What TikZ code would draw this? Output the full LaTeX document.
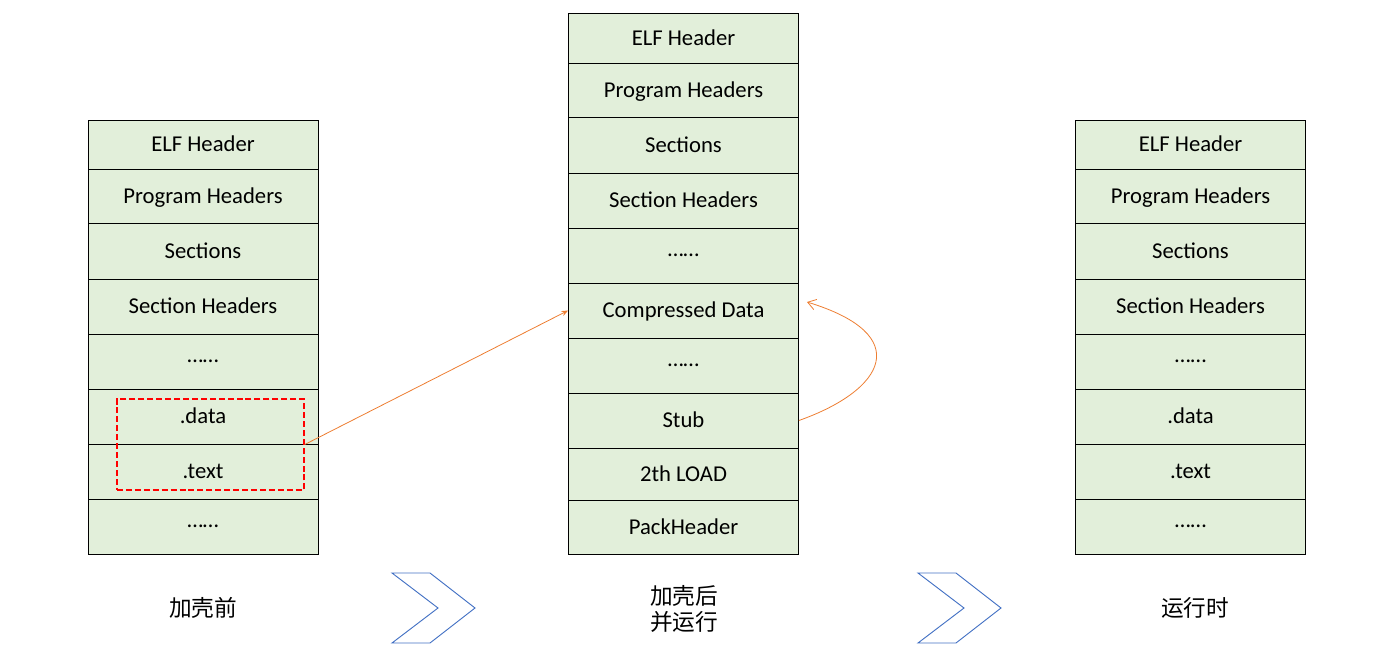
\documentclass[tikz,border=0pt]{standalone}
\usepackage{fontspec}
\setmainfont{Carlito}
\newfontfamily\cjk{Noto Sans CJK SC}
\usetikzlibrary{arrows.meta}
\definecolor{cellgreen}{HTML}{E2EFDA}
\definecolor{linkorange}{HTML}{ED7D31}
\definecolor{chevblue}{HTML}{4472C4}
\newcommand{\dotrow}{\raisebox{0.3em}{……}}

\begin{document}
\begin{tikzpicture}[x=0.75pt,y=-0.75pt]
	\tikzset{cell/.style={draw=black,line width=0.6pt,fill=cellgreen,minimum width=172.5pt,
		inner sep=0pt,text height=14pt,text depth=3pt,font=\fontsize{17}{20}\selectfont}}
	\tikzset{caption/.style={font=\cjk\fontsize{17}{20}\selectfont,align=center}}
	\tikzset{chevron/.style={draw=chevblue,line width=0.7pt,line join=miter}}
	\tikzset{link/.style={draw=linkorange,line width=0.6pt}}
	\useasboundingbox (0,0) rectangle (1385,667);
	% before packing
	\foreach \n/\t/\b/\txt in {l1/120/169/ELF Header,l2/169/223/Program Headers,l3/223/279/Sections,
		l4/279/334/Section Headers,l5/334/389/\dotrow,l6/389/444/.data,l7/444/499/.text,l8/499/554/\dotrow}
		\node[cell,minimum height={0.75pt*(\b-\t)}] (\n) at (203,{(\t+\b)/2}) {\txt};
	\node[draw=red,dash pattern=on 4.5pt off 2.2pt,line width=1.1pt,minimum width=140.25pt,minimum height=68.25pt] (packed) at (210.5,444.5) {};
	% after packing
	\foreach \n/\t/\b/\txt in {m1/13/63/ELF Header,m2/63/117/Program Headers,m3/117/173/Sections,
		m4/173/228/Section Headers,m5/228/283/\dotrow,m6/283/338/Compressed Data,m7/338/393/\dotrow,
		m8/393/448/Stub,m9/448/500/2th LOAD,m10/500/554/PackHeader}
		\node[cell,minimum height={0.75pt*(\b-\t)}] (\n) at (683.5,{(\t+\b)/2}) {\txt};
	% at run time
	\foreach \n/\t/\b/\txt in {r1/120/169/ELF Header,r2/169/223/Program Headers,r3/223/279/Sections,
		r4/279/334/Section Headers,r5/334/389/\dotrow,r6/389/444/.data,r7/444/499/.text,r8/499/554/\dotrow}
		\node[cell,minimum height={0.75pt*(\b-\t)}] (\n) at (1190.5,{(\t+\b)/2}) {\txt};
	% arrows
	\draw[link,-{Stealth[length=5pt,width=4pt]}] (packed.east) -- (m6.west);
	\coordinate (loopend) at (807,302);
	\draw[link,-{Straight Barb[length=6pt,width=8pt]}] (m8.east) .. controls (885,390) and (915,335) .. (loopend);
	% chevrons
	\foreach \dx in {0,526}
		\draw[chevron,xshift=\dx*0.75pt] (392,573) -- (430,573) -- (475,608) -- (430,643) -- (392,643) -- (438,608) -- cycle;
	% captions
	\node[caption] (cbefore) at (203,608) {加壳前};
	\node[caption] (cafter) at (684,609) {加壳后\\并运行};
	\node[caption] (crun) at (1195,608) {运行时};
\end{tikzpicture}
\end{document}
